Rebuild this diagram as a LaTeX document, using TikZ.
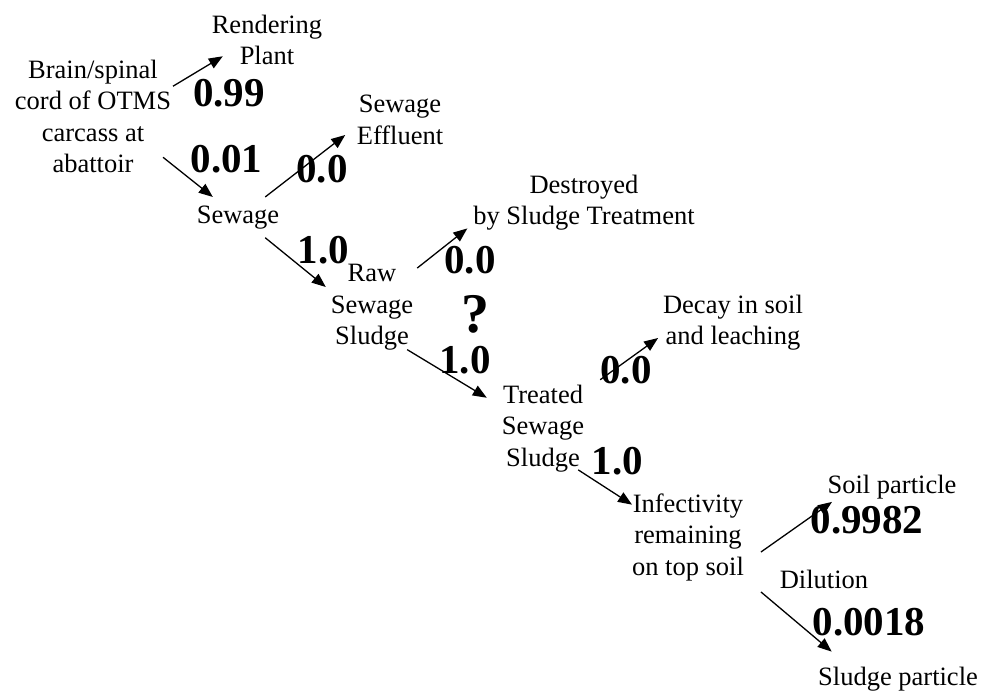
\documentclass[tikz,border=0pt]{standalone}
\usepackage{fontspec}
\setmainfont{Liberation Serif}
\usetikzlibrary{arrows.meta}
\tikzset{
  sludge diagram/.style={
    x=1pt, y=-1pt, line width=1.3pt,
    >={Triangle[length=14pt,width=11pt]},
    every node/.style={inner sep=0pt, outer sep=0pt, text=black}
  },
  sludge text/.style={font=\fontsize{26.5}{31.5}\selectfont, align=center},
  sludge prob/.style={font=\fontsize{41}{48}\selectfont\bfseries, anchor=base},
  sludge path/.style={->, draw=black}
}

\begin{document}
\begin{tikzpicture}[sludge diagram]
    \useasboundingbox (0,0) rectangle (982,697);
    \node[sludge text] (render) at (267,39.7) {Rendering\\Plant};
    \node[sludge text] (brain) at (93,116.2) {Brain/spinal\\cord of OTMS\\carcass at\\abattoir};
    \node[sludge text, anchor=base] (sewage) at (238,223) {Sewage};
    \node[sludge text] (effluent) at (400,120) {Sewage\\Effluent};
    \node[sludge text] (destroyed) at (584,202.6) {Destroyed\\by Sludge Treatment};
    \node[sludge text] (raw) at (372,307.6) {Raw\\Sewage\\Sludge};
    \node[sludge text] (decay) at (733,322.6) {Decay in soil\\and leaching};
    \node[sludge text] (treated) at (543,428.3) {Treated\\Sewage\\Sludge};
    \node[sludge text] (infect) at (688,537.3) {Infectivity\\remaining\\on top soil};
    \node[sludge text, anchor=base] (soil) at (892,493) {Soil particle};
    \node[sludge text, anchor=base] (dilution) at (824,588) {Dilution};
    \node[sludge text, anchor=base] (sludge) at (898,685) {Sludge particle};
    \node[sludge prob] (pRender) at (229,106) {0.99};
    \node[sludge prob] (pSewage) at (226.5,172) {0.01};
    \node[sludge prob] (pEffluent) at (322,182) {0.0};
    \node[sludge prob] (pRaw) at (323.5,263) {1.0};
    \node[sludge prob] (pDestroyed) at (470,273) {0.0};
    \node[sludge prob, font=\fontsize{56}{60}\selectfont\bfseries] (unknown) at (475.5,332) {?};
    \node[sludge prob] (pTreated) at (465,373) {1.0};
    \node[sludge prob] (pDecay) at (626,383) {0.0};
    \node[sludge prob] (pInfect) at (617.5,474) {1.0};
    \node[sludge prob] (pSoil) at (867,533) {0.9982};
    \node[sludge prob] (pSludge) at (869,635) {0.0018};
    \draw[sludge path] ([shift={(2,-30)}]brain.east) -- ([shift={(11,-8.5)}]render.south west);
    \draw[sludge path] ([shift={(-8,-15.5)}]brain.south east) -- ([shift={(16,-8.5)}]sewage.north west);
    \draw[sludge path] ([shift={(-14,-8.5)}]sewage.north east) -- ([shift={(-11.6,15)}]effluent.west);
    \draw[sludge path] ([shift={(-14,9)}]sewage.south east) -- ([shift={(-5,-20.6)}]raw.west);
    \draw[sludge path] ([shift={(4,3.5)}]raw.north east) -- ([shift={(-6,-2)}]destroyed.south west);
    \draw[sludge path] ([shift={(-6,-1)}]raw.south east) -- ([shift={(-15,13)}]treated.north west);
    \draw[sludge path] ([shift={(16,-5)}]treated.north east) -- ([shift={(-5,15.4)}]decay.west);
    \draw[sludge path] ([shift={(-6,-2)}]treated.south east) -- ([shift={(0,11)}]infect.north west);
    \draw[sludge path] ([shift={(17,14.7)}]infect.east) -- ([shift={(4.4,3.25)}]soil.south west);
    \draw[sludge path] ([shift={(17,11)}]infect.south east) -- ([shift={(13.5,-15)}]sludge.north west);
\end{tikzpicture}
\end{document}
